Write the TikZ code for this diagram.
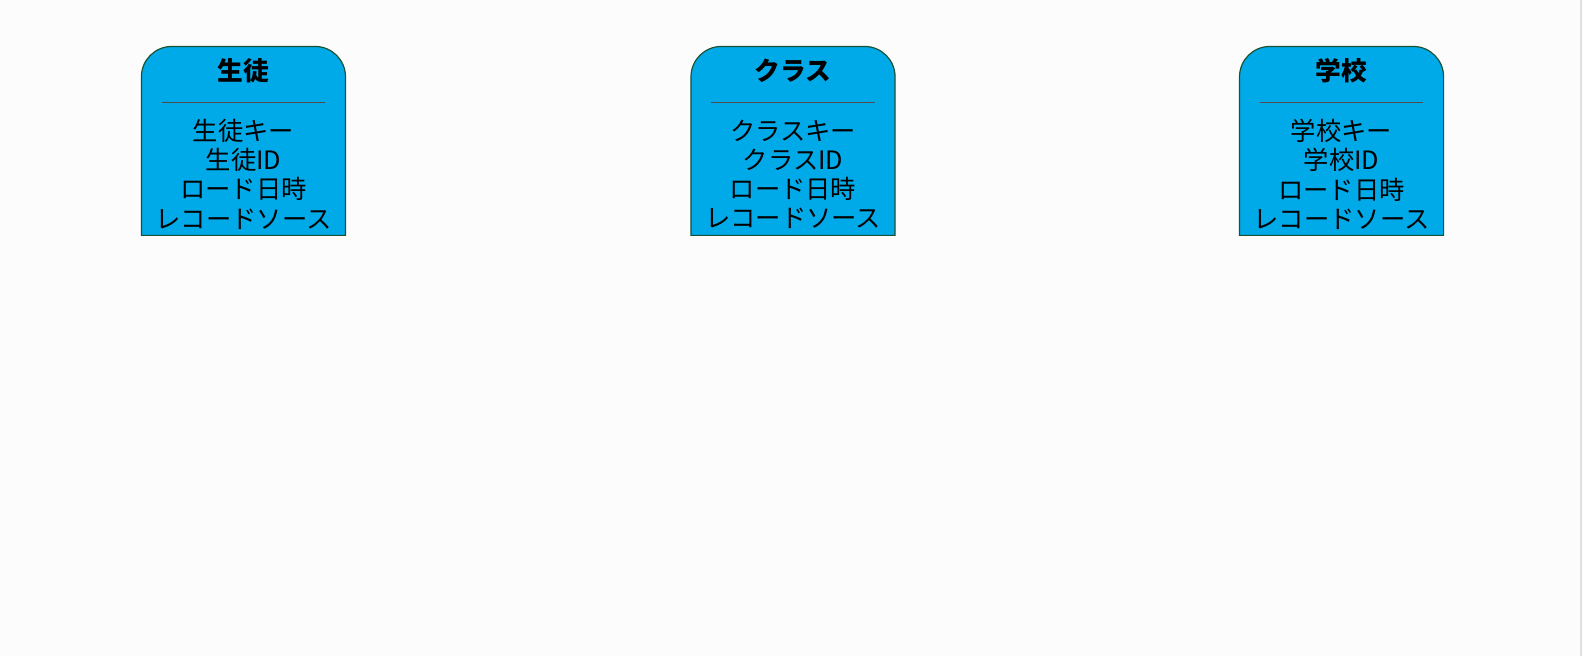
\documentclass[tikz,border=0pt]{standalone}
\usepackage{fontspec}
\setmainfont{Noto Sans CJK JP}
\usetikzlibrary{positioning}
\definecolor{entityfill}{HTML}{00AAE8}
\definecolor{entityline}{HTML}{1A5236}
\tikzset{
	entity/.style = { fill=entityfill, draw=entityline, line width=1.2bp },
	title/.style = { font=\fontsize{25.8}{29.3}\selectfont\bfseries, inner sep=0pt },
	attrs/.style = { font=\fontsize{25.4}{29.3}\selectfont, align=center, inner sep=0pt },
	rule/.style = { draw=black!70, line width=1bp },
}

\begin{document}
\begin{tikzpicture}[x=1.0102bp, y=1.0102bp]
\useasboundingbox (0,0) rectangle (1567,649.4);
\fill[white!99!black] (0,0) rectangle (1567,649.4);
\draw[black!12, line width=1.5bp] (1565,0) -- (1565,649.4);
\foreach \x/\name/\ename in {140/st/生徒, 684/cl/クラス, 1227/sc/学校}
{
	\draw[entity] (\x,416.4) -- (\x,573.4)
		arc[start angle=180, end angle=90, radius=30] -- (\x+172,603.4)
		arc[start angle=90, end angle=0, radius=30] -- (\x+202,416.4) -- cycle;
	\node[title] (\name-title) at (\x+101,579.4) {\ename};
	\draw[rule] (\x+20,548.4) -- (\x+182,548.4);
	\node[attrs] (\name-attrs) at (\x+101,476.9) {\ename キー\\\ename ID\\ロード日時\\レコードソース};
}
\end{tikzpicture}
\end{document}
